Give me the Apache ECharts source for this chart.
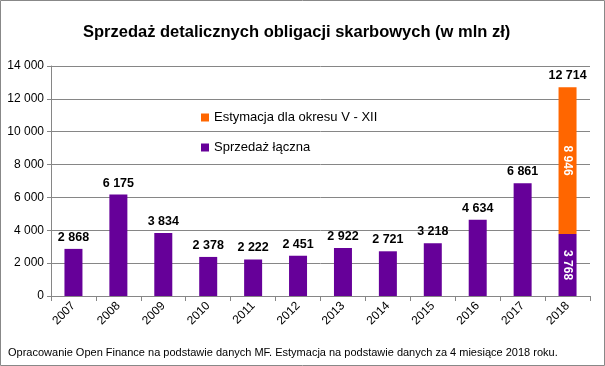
<!DOCTYPE html>
<html><head><meta charset="utf-8">
<script src="https://cdn.jsdelivr.net/npm/echarts@6/dist/echarts.min.js"></script>
<style>html,body{margin:0;padding:0;background:#fff}#c{width:605px;height:366px}</style>
</head><body><div id="c"></div>
<script>
var years = ['2007','2008','2009','2010','2011','2012','2013','2014','2015','2016','2017','2018'];
var salesTotal = [2868, 6175, 3834, 2378, 2222, 2451, 2922, 2721, 3218, 4634, 6861, 3768];
var estimate = [null, null, null, null, null, null, null, null, null, null, null, 8946];
var stackTotals = [null, null, null, null, null, null, null, null, null, null, null, 12714];
var yTicks = [0, 2000, 4000, 6000, 8000, 10000, 12000, 14000];

function fmt(v){ return String(v).replace(/\B(?=(\d{3})+(?!\d))/g, ' '); }
var FONT = '"Liberation Sans", Arial, sans-serif';

var salesData = salesTotal.map(function(v, i){
  if (estimate[i] != null) {
    return {value: v, label: {position: 'inside', rotate: -90, color: '#fff', fontSize: 12}};
  }
  return v;
});
var estData = estimate.map(function(v){
  return v == null ? null : {value: v, label: {show: true, position: 'inside', rotate: -90, color: '#fff', fontSize: 12, fontWeight: 'bold', fontFamily: FONT, formatter: function(p){return fmt(p.value);}}};
});

var chart = echarts.init(document.getElementById('c'));
chart.setOption({
  animation: false,
  textStyle: {fontFamily: FONT},
  title: {text: 'Sprzedaż detalicznych obligacji skarbowych (w mln zł)', left: 78, top: 19,
    textStyle: {fontSize: 16.5, fontWeight: 'bold', color: '#000', fontFamily: FONT}},
  legend: {orient: 'vertical', left: 196, top: 106, itemGap: 17, itemWidth: 8, itemHeight: 8, icon: 'rect',
    data: ['Estymacja dla okresu V - XII', 'Sprzedaż łączna'],
    textStyle: {fontSize: 13, color: '#000', fontFamily: FONT}},
  grid: {left: 51, right: 15, top: 66, bottom: 70},
  xAxis: {type: 'category', data: years,
    axisLine: {lineStyle: {color: '#868686'}},
    axisTick: {show: true, length: 5, lineStyle: {color: '#868686'}},
    axisLabel: {rotate: 45, fontSize: 12, color: '#000', margin: 8}},
  yAxis: {type: 'value', min: 0, max: 14000, interval: 2000,
    axisLine: {show: true, lineStyle: {color: '#868686'}},
    axisTick: {show: true, length: 4, lineStyle: {color: '#868686'}},
    splitLine: {lineStyle: {color: '#868686'}},
    axisLabel: {fontSize: 12, color: '#000', margin: 7, formatter: function(v){ return fmt(v); }}},
  series: [
    {name: 'Sprzedaż łączna', type: 'bar', stack: 's', barWidth: 18, data: salesData,
      itemStyle: {color: '#660099'},
      label: {show: true, position: 'top', fontWeight: 'bold', fontSize: 12.5, color: '#000', distance: 5,
        formatter: function(p){ return fmt(p.value); }}},
    {name: 'Estymacja dla okresu V - XII', type: 'bar', stack: 's', barWidth: 18, data: estData,
      itemStyle: {color: '#FF6600'}},
    {name: 'total', type: 'bar', barWidth: 18, barGap: '-100%', data: stackTotals, z: -1,
      itemStyle: {color: 'rgba(0,0,0,0)'}, silent: true,
      label: {show: true, position: 'top', fontWeight: 'bold', fontSize: 12.5, color: '#000', distance: 5,
        formatter: function(p){ return fmt(p.value); }}}
  ],
  graphic: [
    {type: 'rect', shape: {x: 0.5, y: 0.5, width: 604, height: 365}, style: {fill: 'none', stroke: '#888', lineWidth: 1}},
    {type: 'text', left: 8, top: 347, style: {text: 'Opracowanie Open Finance na podstawie danych MF. Estymacja na podstawie danych za 4 miesiące 2018 roku.', fontSize: 11, fill: '#000', fontFamily: FONT}}
  ]
});
</script></body></html>
